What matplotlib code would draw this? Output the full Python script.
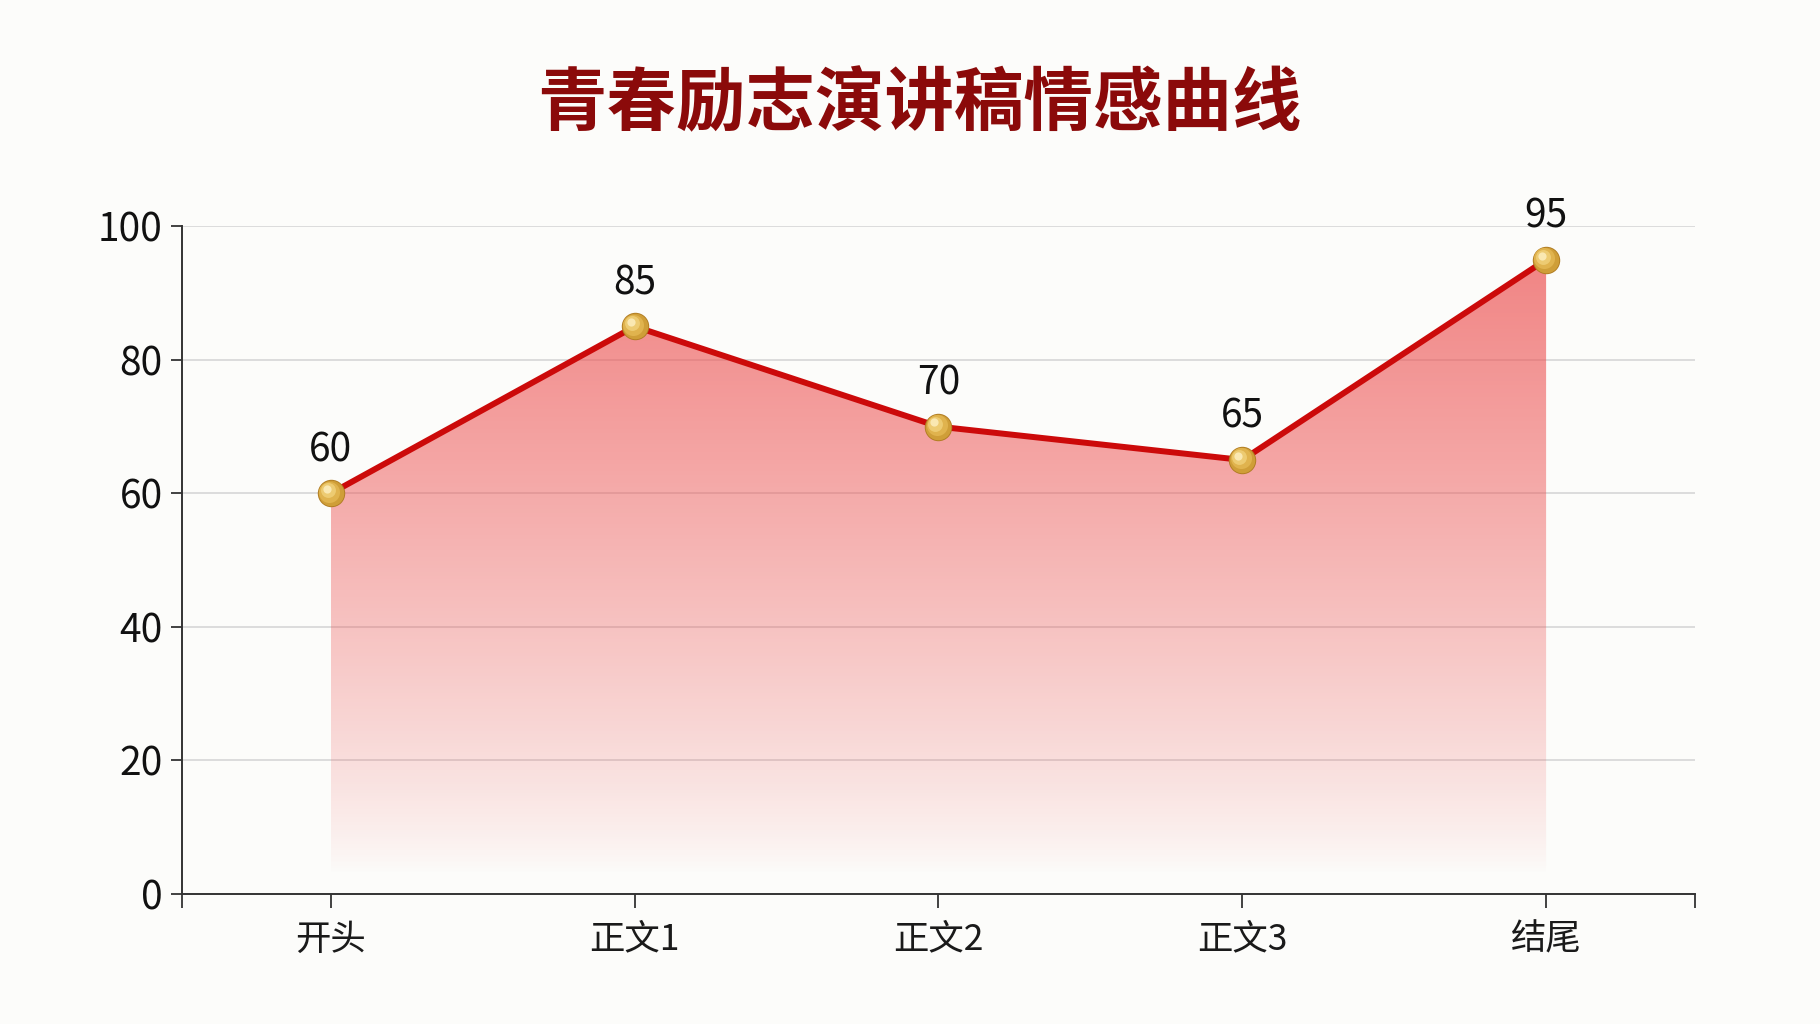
import matplotlib
matplotlib.use("Agg")
import matplotlib.pyplot as plt
import numpy as np
from matplotlib.transforms import offset_copy
from matplotlib.patches import Polygon

plt.rcParams['font.family'] = ['Noto Sans CJK SC', 'DejaVu Sans']

title = "青春励志演讲稿情感曲线"
categories = ["开头", "正文1", "正文2", "正文3", "结尾"]
values = [60, 85, 70, 65, 95]
yticks = [0, 20, 40, 60, 80, 100]

fig = plt.figure(figsize=(18.2, 10.24), dpi=100, facecolor='#FCFCFA')
ax = fig.add_axes([0.1, 0.127, 0.8313, 0.652])
ax.set_facecolor('none')

x = np.arange(len(categories))
ax.set_xlim(-0.49, len(categories) - 1 + 0.49)
ax.set_ylim(0, 100)

# gradient fill under the line
grad = np.linspace(0, 1, 256).reshape(-1, 1)
rgba = np.zeros((256, 1, 4))
rgba[..., 0] = 0.93
rgba[..., 1] = 0.34
rgba[..., 2] = 0.34
alpha = np.clip((grad[:, 0] * 100 - 3) / 92, 0, 1) ** 0.8 * 0.72
rgba[:, 0, 3] = alpha
img = ax.imshow(rgba, extent=[x[0], x[-1], 0, 100], origin='lower',
                aspect='auto', zorder=1, interpolation='bilinear')
poly = Polygon(np.column_stack([np.r_[x, x[::-1]], np.r_[values, np.zeros(len(x))]]),
               closed=True, facecolor='none', edgecolor='none', transform=ax.transData)
ax.add_patch(poly)
img.set_clip_path(poly)

ax.plot(x, values, color='#CC0A0A', lw=4.3, zorder=3, solid_capstyle='round')

# gold spherical markers
layers = [(390, '#B07C22', 0, 0), (340, '#CF9E38', 0, 0), (230, '#E0B34E', -1.2, 1.2),
          (115, '#EDCB72', -2.2, 2.2), (35, '#FAE8B2', -3.0, 3.0)]
for s, c, dx, dy in layers:
    tr = offset_copy(ax.transData, fig=fig, x=dx, y=dy, units='points')
    ax.scatter(x, values, s=s, color=c, zorder=4, transform=tr, clip_on=False, linewidths=0)

for xi, v in zip(x, values):
    ax.annotate(str(v), (xi, v), xytext=(0, 31), textcoords='offset points',
                ha='center', va='center', fontsize=28, color='#111111', zorder=5,
                annotation_clip=False)

ax.set_xticks(x)
ax.set_xticklabels(categories, fontsize=25.5, color='#1a1a1a')
ax.set_xticks([-0.49, len(categories) - 1 + 0.49], minor=True)
ax.set_yticks(yticks)
ax.set_yticklabels([str(t) for t in yticks], fontsize=28, color='#111111')
ax.tick_params(axis='x', which='both', length=10, width=1.3, color='#333333', pad=10)
ax.tick_params(axis='y', length=8, width=1.3, color='#333333', pad=6)

ax.grid(axis='y', color='#D6D6D6', lw=1.2, zorder=0)
ax.set_axisbelow(True)
for sp in ['top', 'right']:
    ax.spines[sp].set_visible(False)
for sp in ['left', 'bottom']:
    ax.spines[sp].set_color('#333333')
    ax.spines[sp].set_linewidth(1.4)
ax.spines['left'].set_bounds(0, 100)

fig.text(0.505, 0.897, title, ha='center', va='center', fontsize=50,
         fontweight='black', color='#8B0A0A')

fig.savefig('out.png', dpi=100, facecolor=fig.get_facecolor())
